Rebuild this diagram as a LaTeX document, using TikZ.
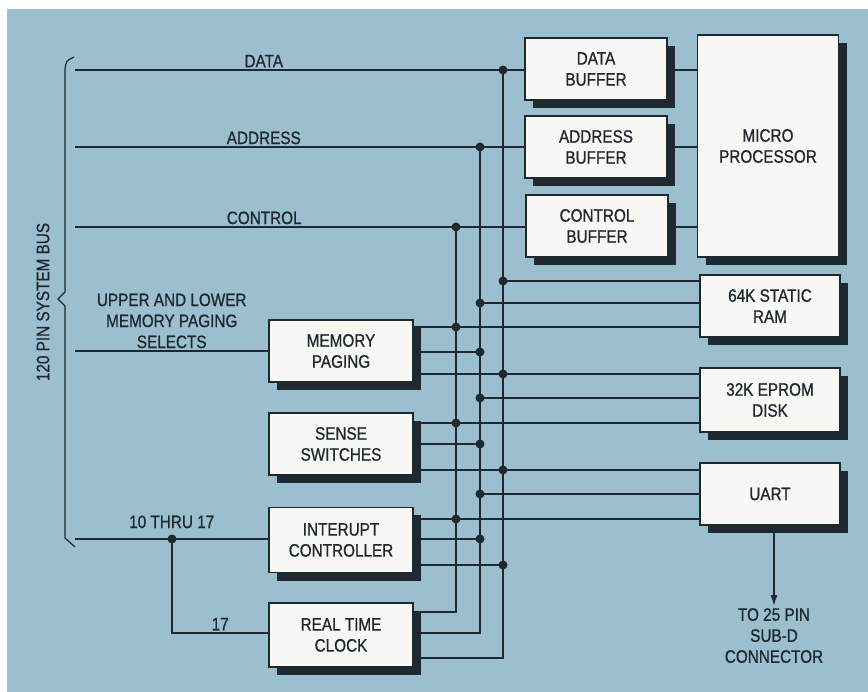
\documentclass[tikz,border=0pt]{standalone}
\usepackage{fontspec}
\newfontfamily\diagfont{Liberation Sans}[FakeStretch=0.85, FakeBold=0.8]
\usetikzlibrary{shadows,arrows.meta}
\definecolor{panel}{RGB}{155,191,206}
\definecolor{ink}{RGB}{30,40,46}
\definecolor{card}{RGB}{247,247,243}
\definecolor{shade}{RGB}{30,42,48}
\begin{document}
\begin{tikzpicture}[x=1pt, y=-1pt,
    every node/.style={font=\diagfont\fontsize{18}{21}\selectfont, text=ink},
    block/.style={draw=ink, line width=1.1pt, fill=card, align=center, inner sep=0pt,
        minimum width=142pt, minimum height=62pt,
        drop shadow={shadow xshift=8pt, shadow yshift=-8pt, fill=shade, opacity=1}},
    bus/.style={draw=ink, line width=1.5pt},
    lbl/.style={align=center, inner sep=2pt}]
\useasboundingbox (0,0) rectangle (868,692);
\fill[white] (0,0) rectangle (868,692);
\fill[panel] (7,9) rectangle (868,692);
% boxes
\node[block] (databuf) at (596,69) {DATA\\BUFFER};
\node[block] (addrbuf) at (596,147) {ADDRESS\\BUFFER};
\node[block] (ctrlbuf) at (597,226) {CONTROL\\BUFFER};
\node[block, minimum width=141pt, minimum height=222pt] (micro) at (768,146) {MICRO\\PROCESSOR};
\node[block, minimum width=140pt] (ram) at (770,306) {64K STATIC\\RAM};
\node[block, minimum width=140pt, minimum height=64pt] (eprom) at (770,400) {32K EPROM\\DISK};
\node[block, minimum width=140pt] (uart) at (770,494) {UART};
\node[block, minimum width=144pt] (mempag) at (341,351) {MEMORY\\PAGING};
\node[block, minimum width=144pt] (sense) at (341,444) {SENSE\\SWITCHES};
\node[block, minimum width=144pt, minimum height=65pt] (intr) at (341,540) {INTERUPT\\CONTROLLER};
\node[block, minimum width=144pt, minimum height=64pt] (rtc) at (341,635) {REAL TIME\\CLOCK};
% system bus
\coordinate (busD) at (75,70);
\coordinate (busA) at (75,147);
\coordinate (busC) at (75,227);
\coordinate (busM) at (75,351);
\coordinate (busI) at (75,539);
\coordinate (irqtap) at (172,539);
\draw[ink, line width=1.2pt] (74,57) .. controls (66,61) .. (65,70) -- (65,292) -- (58,299) -- (65,306) -- (65,538) -- (75,547);
\node[lbl, rotate=90] (sysbus) at (43,302) {120 PIN SYSTEM BUS};
\draw[bus] (busD) -- node[lbl, pos=0.42, above] (datalbl) {DATA} (busD -| databuf.west);
\draw[bus] (busA) -- node[lbl, pos=0.42, above] (addrlbl) {ADDRESS} (busA -| addrbuf.west);
\draw[bus] (busC) -- node[lbl, pos=0.42, above] (ctrllbl) {CONTROL} (busC -| ctrlbuf.west);
\draw[bus] (busD -| databuf.east) -- (busD -| micro.west);
\draw[bus] (busA -| addrbuf.east) -- (busA -| micro.west);
\draw[bus] (busC -| ctrlbuf.east) -- (busC -| micro.west);
\draw[bus] (busM) -- node[lbl, midway, above] (pagelbl) {UPPER AND LOWER\\MEMORY PAGING\\SELECTS} (busM -| mempag.west);
\draw[bus] (busI) -- node[lbl, midway, above=8pt] (irqlbl) {10 THRU 17} (busI -| intr.west);
\draw[bus] (irqtap) |- node[lbl, pos=0.75, above] (clklbl) {17} (rtc.west |- 0,633);
% local bus
\coordinate (dtop) at (503,70);  \coordinate (dbot) at (503,658);
\coordinate (atop) at (480,147); \coordinate (abot) at (480,633);
\coordinate (ctop) at (456,227); \coordinate (cbot) at (456,612);
\draw[bus] (dbot -| rtc.east) -- (dbot) -- (dtop);
\draw[bus] (abot -| rtc.east) -- (abot) -- (atop);
\draw[bus] (cbot -| rtc.east) -- (cbot) -- (ctop);
\draw[bus] (dtop |- 0,281) -- (ram.west |- 0,281);
\draw[bus] (atop |- 0,303) -- (ram.west |- 0,303);
\draw[bus] (mempag.east |- 0,327) -- (ram.west |- 0,327);
\draw[bus] (mempag.east |- 0,352) -- (atop |- 0,352);
\draw[bus] (mempag.east |- 0,374) -- (eprom.west |- 0,374);
\draw[bus] (atop |- 0,398) -- (eprom.west |- 0,398);
\draw[bus] (sense.east |- 0,423) -- (eprom.west |- 0,423);
\draw[bus] (sense.east |- 0,444) -- (atop |- 0,444);
\draw[bus] (sense.east |- 0,470) -- (uart.west |- 0,470);
\draw[bus] (atop |- 0,494) -- (uart.west |- 0,494);
\draw[bus] (intr.east |- 0,519) -- (uart.west |- 0,519);
\draw[bus] (intr.east |- 0,539) -- (atop |- 0,539);
\draw[bus] (intr.east |- 0,565) -- (dtop |- 0,565);
% junctions
\fill[ink] (dtop) circle (4.5pt) (503,281) circle (4.5pt) (503,374) circle (4.5pt)
    (503,470) circle (4.5pt) (503,565) circle (4.5pt)
    (atop) circle (4.5pt) (480,303) circle (4.5pt) (480,352) circle (4.5pt)
    (480,398) circle (4.5pt) (480,444) circle (4.5pt) (480,494) circle (4.5pt)
    (480,539) circle (4.5pt)
    (ctop) circle (4.5pt) (456,327) circle (4.5pt) (456,423) circle (4.5pt)
    (456,519) circle (4.5pt) (irqtap) circle (4.5pt);
% serial out
\node[lbl, anchor=north] (subd) at (774,606) {TO 25 PIN\\SUB-D\\CONNECTOR};
\draw[bus, -{Latex[length=11pt, width=7pt]}] (uart.south -| subd.north) -- (subd.north);
\end{tikzpicture}
\end{document}
